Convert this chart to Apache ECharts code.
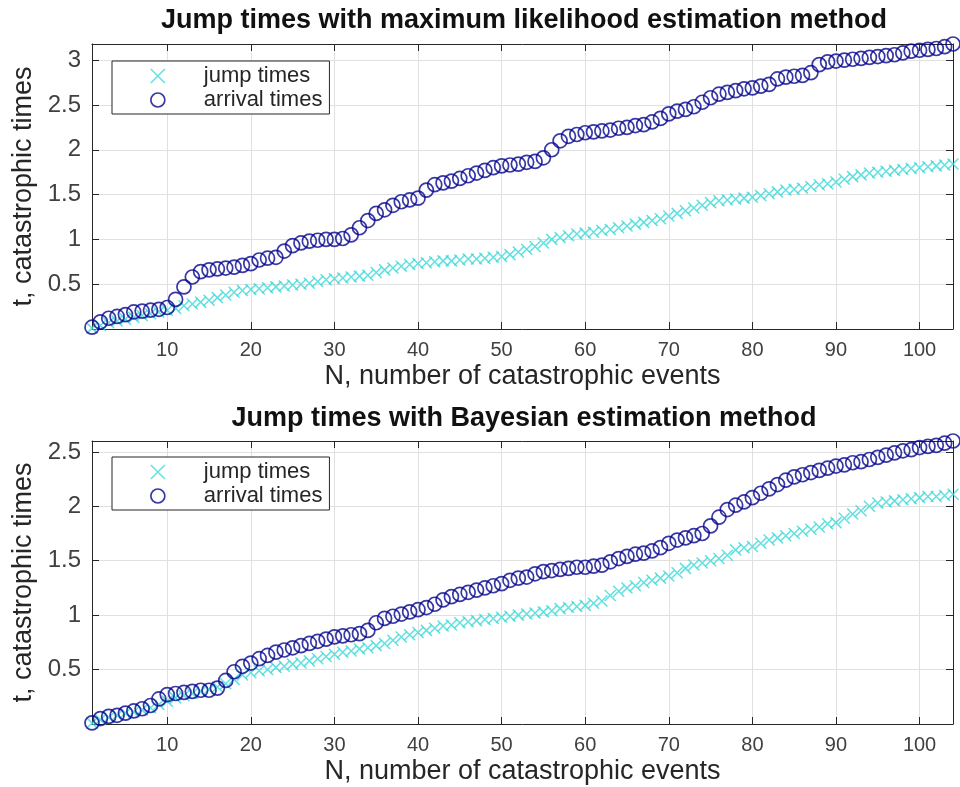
<!DOCTYPE html>
<html>
<head>
<meta charset="utf-8">
<script src="https://cdn.jsdelivr.net/npm/echarts@6/dist/echarts.min.js"></script>
<style>html,body{margin:0;padding:0;background:#fff}#c{width:960px;height:787px}</style>
</head>
<body>
<div id="c"></div>
<script>
var eventN = [1,2,3,4,5,6,7,8,9,10,11,12,13,14,15,16,17,18,19,20,21,22,23,24,25,26,27,28,29,30,31,32,33,34,35,36,37,38,39,40,41,42,43,44,45,46,47,48,49,50,51,52,53,54,55,56,57,58,59,60,61,62,63,64,65,66,67,68,69,70,71,72,73,74,75,76,77,78,79,80,81,82,83,84,85,86,87,88,89,90,91,92,93,94,95,96,97,98,99,100,101,102,103,104];

var mleJump = [0.01,0.04,0.07,0.09,0.11,0.13,0.15,0.17,0.19,0.21,0.23,0.26,0.28,0.30,0.32,0.35,0.38,0.41,0.43,0.44,0.45,0.46,0.47,0.48,0.49,0.50,0.51,0.53,0.55,0.56,0.57,0.58,0.59,0.60,0.63,0.66,0.68,0.70,0.72,0.73,0.74,0.75,0.76,0.76,0.77,0.78,0.78,0.79,0.80,0.81,0.83,0.86,0.89,0.92,0.96,1.00,1.02,1.04,1.06,1.07,1.08,1.10,1.11,1.13,1.15,1.17,1.19,1.21,1.23,1.26,1.29,1.32,1.35,1.38,1.41,1.43,1.44,1.45,1.46,1.47,1.49,1.51,1.53,1.55,1.56,1.57,1.59,1.61,1.62,1.64,1.67,1.70,1.72,1.74,1.75,1.76,1.77,1.78,1.79,1.80,1.81,1.82,1.83,1.84];

var mleArrival = [0.02,0.08,0.12,0.14,0.16,0.19,0.20,0.21,0.22,0.24,0.33,0.47,0.58,0.64,0.66,0.67,0.68,0.69,0.71,0.73,0.77,0.79,0.80,0.87,0.93,0.96,0.98,0.99,1.00,1.00,1.01,1.05,1.13,1.21,1.29,1.33,1.38,1.42,1.44,1.46,1.55,1.61,1.63,1.65,1.68,1.71,1.74,1.77,1.80,1.82,1.83,1.84,1.86,1.87,1.91,2.00,2.10,2.15,2.17,2.19,2.20,2.21,2.22,2.24,2.25,2.27,2.28,2.31,2.35,2.40,2.43,2.45,2.48,2.53,2.58,2.62,2.64,2.66,2.68,2.69,2.71,2.73,2.79,2.81,2.82,2.83,2.86,2.95,2.98,2.99,3.00,3.01,3.02,3.03,3.04,3.05,3.06,3.08,3.10,3.11,3.12,3.13,3.15,3.18];

var bayesJump = [0.01,0.04,0.06,0.08,0.10,0.11,0.13,0.15,0.18,0.21,0.24,0.26,0.28,0.30,0.32,0.34,0.37,0.41,0.45,0.47,0.49,0.50,0.52,0.53,0.55,0.56,0.58,0.60,0.62,0.64,0.66,0.67,0.69,0.70,0.72,0.74,0.77,0.80,0.82,0.84,0.86,0.88,0.90,0.91,0.93,0.94,0.95,0.96,0.97,0.98,0.99,1.00,1.01,1.02,1.03,1.04,1.06,1.07,1.08,1.09,1.11,1.13,1.18,1.22,1.25,1.27,1.30,1.32,1.34,1.36,1.39,1.43,1.46,1.48,1.50,1.52,1.55,1.60,1.62,1.63,1.66,1.69,1.71,1.73,1.75,1.77,1.79,1.81,1.84,1.85,1.89,1.93,1.96,2.00,2.03,2.04,2.05,2.06,2.07,2.08,2.09,2.09,2.10,2.11];

var bayesArrival = [0.01,0.05,0.07,0.08,0.10,0.12,0.14,0.17,0.23,0.27,0.28,0.29,0.30,0.31,0.31,0.33,0.40,0.48,0.53,0.56,0.60,0.63,0.66,0.68,0.70,0.72,0.74,0.76,0.78,0.80,0.81,0.82,0.83,0.86,0.93,0.97,0.99,1.01,1.03,1.05,1.07,1.10,1.14,1.17,1.19,1.21,1.23,1.25,1.27,1.29,1.32,1.34,1.35,1.38,1.40,1.41,1.42,1.43,1.44,1.44,1.45,1.46,1.49,1.52,1.54,1.56,1.57,1.59,1.62,1.66,1.69,1.71,1.73,1.75,1.82,1.90,1.97,2.01,2.04,2.08,2.12,2.16,2.20,2.24,2.27,2.29,2.31,2.33,2.35,2.37,2.38,2.40,2.41,2.43,2.45,2.47,2.49,2.51,2.52,2.54,2.55,2.56,2.58,2.60];

var xTicks = [10,20,30,40,50,60,70,80,90,100];
var yTicksTop = [0.5,1,1.5,2,2.5,3];
var yTicksBottom = [0.5,1,1.5,2,2.5];
var titles = ['Jump times with maximum likelihood estimation method','Jump times with Bayesian estimation method'];
var xName = 'N, number of catastrophic events';
var yName = 't, catastrophic times';
var seriesNames = ['jump times','arrival times'];

var FONT = "'Liberation Sans', Arial, Helvetica, sans-serif";
var TXT = '#262626';
var AX = '#262626';
var CYAN = '#3cd8d8';
var BLUE = '#06068f';
var CROSS = 'path://M0,0L10,10M10,0L0,10';

function pairs(ys){ return eventN.map(function(n,i){ return [n, ys[i]]; }); }

var grids = [
  {left:92, top:44, width:861, height:285},
  {left:92, top:441, width:861, height:283}
];
var yMax = [3.18, 2.6];
var yTickSets = [yTicksTop, yTicksBottom];

var xAxes = [], yAxes = [];
[0,1].forEach(function(g){
  xAxes.push({
    gridIndex:g, type:'value', min:1, max:104, position:'bottom',
    name: xName, nameLocation:'middle', nameGap:34,
    nameTextStyle:{fontFamily:FONT, fontSize:27, color:TXT},
    axisLine:{show:true, onZero:false, lineStyle:{color:AX, width:1}},
    axisTick:{show:true, inside:true, length:7, customValues:xTicks, lineStyle:{color:AX}},
    axisLabel:{show:true, customValues:xTicks, margin:11, fontFamily:FONT, fontSize:20, color:'#404040'},
    splitLine:{show:true, lineStyle:{color:'#e0e0e0', width:1}}
  });
  xAxes.push({
    gridIndex:g, type:'value', min:1, max:104, position:'top',
    axisLine:{show:true, onZero:false, lineStyle:{color:AX, width:1}},
    axisTick:{show:true, inside:true, length:7, customValues:xTicks, lineStyle:{color:AX}},
    axisLabel:{show:false}, splitLine:{show:false}
  });
  yAxes.push({
    gridIndex:g, type:'value', min:0, max:yMax[g], position:'left',
    name: yName, nameLocation:'middle', nameGap:50,
    nameTextStyle:{fontFamily:FONT, fontSize:27, color:TXT},
    axisLine:{show:true, onZero:false, lineStyle:{color:AX, width:1}},
    axisTick:{show:true, inside:true, length:7, customValues:yTickSets[g], lineStyle:{color:AX}},
    axisLabel:{show:true, customValues:yTickSets[g], margin:11, fontFamily:FONT, fontSize:24, color:'#404040'},
    splitLine:{show:true, lineStyle:{color:'#e0e0e0', width:1}}
  });
  yAxes.push({
    gridIndex:g, type:'value', min:0, max:yMax[g], position:'right',
    axisLine:{show:true, onZero:false, lineStyle:{color:AX, width:1}},
    axisTick:{show:true, inside:true, length:7, customValues:yTickSets[g], lineStyle:{color:AX}},
    axisLabel:{show:false}, splitLine:{show:false}
  });
});

function jumpSeries(g, data){
  return {
    name: seriesNames[0], type:'scatter', xAxisIndex:g*2, yAxisIndex:g*2,
    data: pairs(data), symbol: CROSS, symbolSize: 11, clip:false, z:3,
    itemStyle:{color:'rgba(0,0,0,0)', borderColor:CYAN, borderWidth:1.5},
    emphasis:{disabled:true}, silent:true
  };
}
function arrivalSeries(g, data){
  return {
    name: seriesNames[1], type:'scatter', xAxisIndex:g*2, yAxisIndex:g*2,
    data: pairs(data), symbol:'circle', symbolSize: 14, clip:false, z:4,
    itemStyle:{color:'rgba(0,0,0,0)', borderColor:BLUE, borderWidth:1.7},
    emphasis:{disabled:true}, silent:true
  };
}

function legendFor(top){
  return {
    left:112, top:top, orient:'vertical',
    padding:[3, 7, 2, 38], itemGap:0, itemWidth:14, itemHeight:14,
    borderColor:'#262626', borderWidth:1, backgroundColor:'#fff',
    selectedMode:false,
    textStyle:{fontFamily:FONT, fontSize:22, color:TXT, lineHeight:24, padding:[0,0,0,34]},
    data:[
      {name:seriesNames[0], icon:CROSS, itemStyle:{color:'rgba(0,0,0,0)', borderColor:CYAN, borderWidth:1.5}},
      {name:seriesNames[1], icon:'circle', itemStyle:{color:'rgba(0,0,0,0)', borderColor:BLUE, borderWidth:1.7}}
    ]
  };
}

var option = {
  backgroundColor:'#fff',
  animation:false,
  grid: grids,
  xAxis: xAxes,
  yAxis: yAxes,
  legend: [legendFor(61), legendFor(457)],
  graphic: [
    {type:'text', x:524, y:21, style:{text:titles[0], x:0, y:0, align:'center', verticalAlign:'middle', font:"bold 27px " + FONT, fill:'#111'}},
    {type:'text', x:524, y:419, style:{text:titles[1], x:0, y:0, align:'center', verticalAlign:'middle', font:"bold 27px " + FONT, fill:'#111'}}
  ],
  series: [
    jumpSeries(0, mleJump), arrivalSeries(0, mleArrival),
    jumpSeries(1, bayesJump), arrivalSeries(1, bayesArrival)
  ]
};

var chart = echarts.init(document.getElementById('c'), null, {renderer:'canvas'});
chart.setOption(option);
</script>
</body>
</html>
